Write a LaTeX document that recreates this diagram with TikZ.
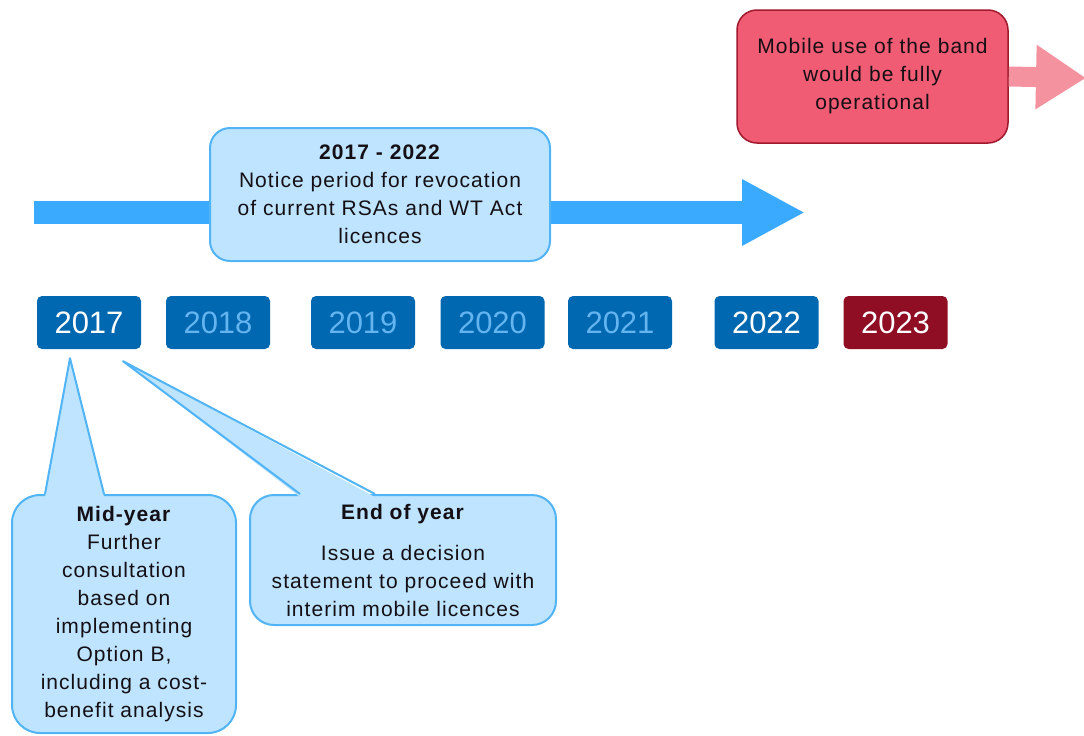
\documentclass[tikz,border=0pt]{standalone}
\usepackage{fontspec}
\setmainfont{Liberation Sans}
\newfontfamily\bodyfont[LetterSpace=5]{Liberation Sans}
\usetikzlibrary{arrows.meta,calc}

\definecolor{yearblue}{RGB}{0,103,177}
\definecolor{yearred}{RGB}{143,14,35}
\definecolor{yearfaint}{RGB}{100,180,240}
\definecolor{calloutfill}{RGB}{190,228,255}
\definecolor{calloutline}{RGB}{80,180,245}
\definecolor{periodarrow}{RGB}{58,170,255}
\definecolor{opfill}{RGB}{240,92,116}
\definecolor{opline}{RGB}{160,25,45}
\definecolor{oparrow}{RGB}{244,146,160}
\definecolor{textdark}{RGB}{20,15,20}

\tikzset{
  yearbox/.style={fill=yearblue, rounded corners=5pt, minimum width=104pt,
    minimum height=53pt, inner sep=0pt, text=white,
    font=\fontsize{31}{31}\selectfont},
  bodytext/.style={text=textdark, align=center, inner sep=0pt,
    font=\bodyfont\fontsize{21}{28}\selectfont},
  callout/.style={bodytext, fill=calloutfill, draw=calloutline, line width=2pt},
  pointerfill/.style={fill=calloutfill},
  pointerline/.style={draw=calloutline, line width=2pt, line join=round},
  opbox/.style={bodytext, fill=opfill, draw=opline, line width=1.5pt,
    rounded corners=20pt, minimum width=271pt, minimum height=133pt}
}

\begin{document}
\begin{tikzpicture}[x=1pt,y=-1pt]
\useasboundingbox (0,0) rectangle (1084,736);

% notice-period arrow
\coordinate (pstart) at (34,212.5);
\coordinate (pend) at (805,212.5);
\draw[periodarrow, line width=23pt,
  -{Triangle[length=63pt,width=62pt]}] (pstart) -- (pend);

% notice-period box
\node[callout, rounded corners=20pt, minimum width=340pt, minimum height=133pt]
  (period) at (380,194.5)
  {\textbf{2017 - 2022}\\Notice period for revocation\\of current RSAs and WT Act\\licences};

% operational box and its arrow
\node[opbox] (oper) at (872.5,76.5)
  {Mobile use of the band\\would be fully\\operational};
\coordinate (opend) at (1086,78);
\draw[oparrow, line width=20pt,
  -{Triangle[length=50pt,width=61pt]}] (oper.east) -- (opend);

% year row
\node[yearbox] (y2017) at (89,322.5) {2017};
\node[yearbox, text=yearfaint] (y2018) at (218,322.5) {2018};
\node[yearbox, text=yearfaint] (y2019) at (363,322.5) {2019};
\node[yearbox, text=yearfaint] (y2020) at (492.5,322.5) {2020};
\node[yearbox, text=yearfaint] (y2021) at (620,322.5) {2021};
\node[yearbox] (y2022) at (766.5,322.5) {2022};
\node[yearbox, fill=yearred] (y2023) at (895.5,322.5) {2023};

% callout boxes
\node[callout, rounded corners=28pt, minimum width=224pt, minimum height=238pt]
  (midyear) at (124,614)
  {\textbf{Mid-year}\\Further\\consultation\\based on\\implementing\\Option B,\\including a cost-\\benefit analysis};
\node[callout, rounded corners=24pt, minimum width=306pt, minimum height=130pt]
  (endyear) at (403,560)
  {\textbf{End of year}\\[13pt]Issue a decision\\statement to proceed with\\interim mobile licences};

% callout pointers
\coordinate (midtip) at ($(y2017.south)+(-19,9)$);
\coordinate (midb1) at ($(midyear.north)+(-79,0)$);
\coordinate (midb2) at ($(midyear.north)+(-20,0)$);
\coordinate (endtip) at ($(y2017.south)+(34,12)$);
\coordinate (endb1) at ($(endyear.north)+(-103,0)$);
\coordinate (endb2) at ($(endyear.north)+(-28,0)$);

\fill[pointerfill] ($(midb1)+(0,3)$) -- (midtip) -- ($(midb2)+(0,3)$) -- cycle;
\draw[pointerline] (midb1) -- (midtip) -- (midb2);
\fill[pointerfill] ($(endb1)+(0,3)$) -- (endtip) -- ($(endb2)+(0,3)$) -- cycle;
\draw[pointerline] (endb1) -- (endtip) -- (endb2);
\end{tikzpicture}
\end{document}
